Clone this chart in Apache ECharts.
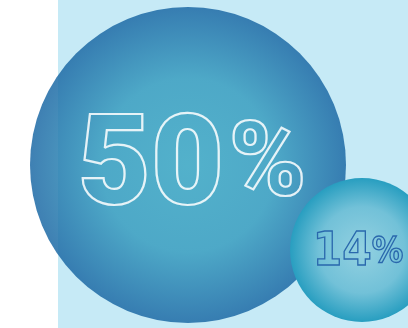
<!DOCTYPE html>
<html><head><meta charset="utf-8">
<script src="https://cdn.jsdelivr.net/npm/echarts@6/dist/echarts.min.js"></script>
<style>html,body{margin:0;padding:0;background:#fff}#c{width:408px;height:328px}</style>
</head><body><div id="c"></div>
<script>
const labels = ['50', '14'];
const values = [50, 14];
const xCenters = [188, 362];
const yCenters = [165, 250];

const chart = echarts.init(document.getElementById('c'));
const sizeOf = v => 77 + 4.78 * v;
const styles = [
  {
    color: new echarts.graphic.RadialGradient(0.5, 0.5, 0.5, [
      {offset: 0, color: '#40a8c4'}, {offset: 0.55, color: '#3a9ec0'}, {offset: 1, color: '#1f6ba6'}]),
    opacity: 0.86
  },
  {
    color: new echarts.graphic.RadialGradient(0.5, 0.5, 0.5, [
      {offset: 0, color: '#93d1e1'}, {offset: 0.6, color: '#72c1d8'}, {offset: 1, color: '#289ec0'}]),
    opacity: 1
  }
];
const labelStyles = [
  {offset: [4, 7], rich: {
    n: {fontFamily: 'Roboto', fontWeight: 900, fontSize: 126, color: 'transparent', textBorderColor: '#ffffff', textBorderWidth: 2.2, verticalAlign: 'middle'},
    p: {fontFamily: 'Roboto', fontWeight: 900, fontSize: 104, color: 'transparent', textBorderColor: '#ffffff', textBorderWidth: 2.2, verticalAlign: 'middle', padding: [0, 0, 6, 5]}
  }},
  {offset: [-4, 3], rich: {
    n: {fontFamily: 'DejaVu Sans Condensed', fontWeight: 'bold', fontSize: 47, color: 'transparent', textBorderColor: '#2a68ad', textBorderWidth: 1.3, verticalAlign: 'middle'},
    p: {fontFamily: 'DejaVu Sans Condensed', fontWeight: 'bold', fontSize: 35, color: 'transparent', textBorderColor: '#2a68ad', textBorderWidth: 1.3, verticalAlign: 'middle'}
  }}
];

chart.setOption({
  animation: false,
  graphic: [{type: 'rect', z: -10, shape: {x: 58, y: 0, width: 350, height: 328}, style: {fill: '#c6eaf6'}}],
  grid: {left: 0, right: 0, top: 0, bottom: 0},
  xAxis: {type: 'value', min: 0, max: 408, show: false},
  yAxis: {type: 'value', min: 0, max: 328, inverse: true, show: false},
  series: [{
    type: 'scatter',
    symbol: 'circle',
    data: values.map((v, i) => ({
      value: [xCenters[i], yCenters[i], v],
      symbolSize: sizeOf(v),
      itemStyle: styles[i],
      label: {
        show: true, position: 'inside',
        offset: labelStyles[i].offset,
        formatter: '{n|' + labels[i] + '}{p|%}',
        rich: labelStyles[i].rich
      }
    })),
    emphasis: {disabled: true}
  }]
});
</script></body></html>
